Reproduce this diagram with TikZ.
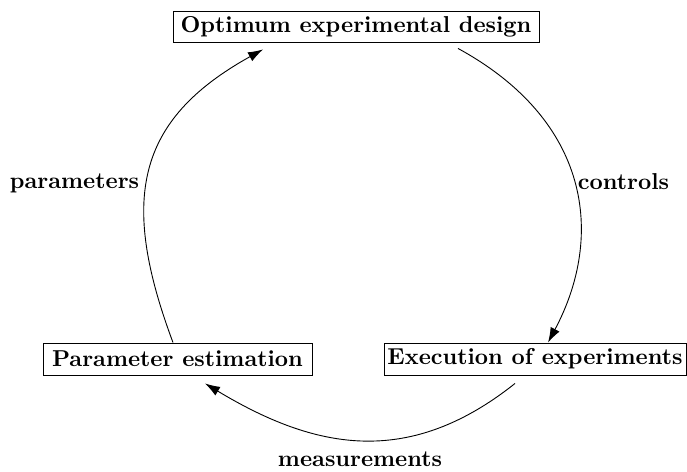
\documentclass[tikz,border=0pt]{standalone}
\usepackage{fontspec}
\setmainfont{lmroman10-regular.otf}[BoldFont=lmroman10-bold.otf]
\usetikzlibrary{arrows.meta}
\tikzset{
  lbl/.style={font=\fontsize{23}{27}\selectfont\bfseries, inner sep=0pt},
  stepbox/.style={draw, line width=0.9pt, inner sep=0pt, font=\fontsize{23}{27}\selectfont\bfseries},
  flow/.style={line width=0.9pt, -{Latex[length=15pt,width=10pt]}}
}
\begin{document}
\begin{tikzpicture}[x=1pt,y=-1pt]
\useasboundingbox (0,0) rectangle (687,471);
\node[stepbox, minimum width=366pt, minimum height=31pt] (top) at (356,26.5) {Optimum experimental design};
\node[stepbox, minimum width=269pt, minimum height=32pt] (param) at (177.5,359) {Parameter estimation};
\node[stepbox, minimum width=302pt, minimum height=32pt] (exec) at (535,359) {Execution of experiments};
\node[lbl, anchor=base] (lc) at (623.5,189) {controls};
\node[lbl, anchor=base] (lp) at (74.5,188) {parameters};
\node[lbl, anchor=base] (lm) at (360,466) {measurements};
\draw[flow] ([shift={(102,6)}]top.south) .. controls +(132,72) and +(57,-107) .. ([xshift=13pt]exec.north);
\draw[flow] ([shift={(-20,8)}]exec.south) .. controls +(-108,86) and +(108,65) .. ([shift={(27.5,8)}]param.south);
\draw[flow] ([shift={(-4.5,0)}]param.north) .. controls +(-53,-142) and +(-128,71) .. ([shift={(-93,7)}]top.south);
\end{tikzpicture}
\end{document}
